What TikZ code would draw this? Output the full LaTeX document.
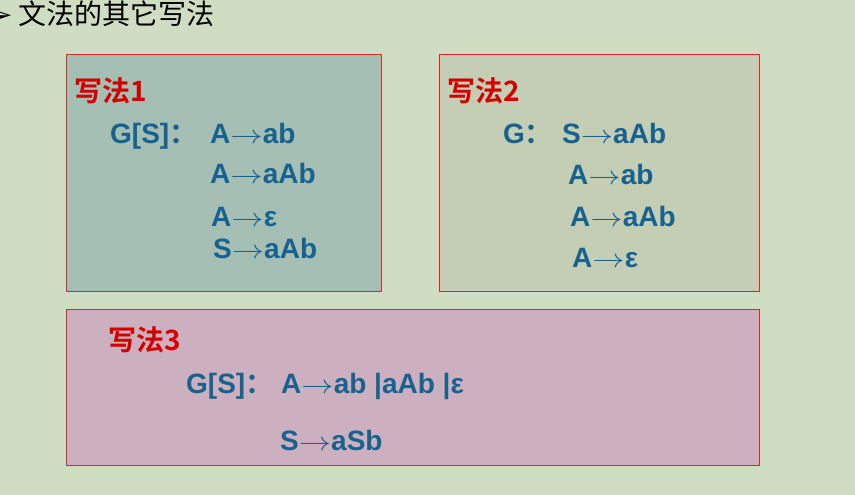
\documentclass[tikz,border=0pt]{standalone}
\usepackage{fontspec}
\usepackage{graphicx}
\newfontfamily\rulefont{Liberation Sans}[BoldFont={Liberation Sans Bold}]
\newfontfamily\cjk{Noto Sans CJK SC}[BoldFont={Noto Sans CJK SC Bold}]
\newfontfamily\dingbat{DejaVu Sans}
\usetikzlibrary{positioning}
\definecolor{pagegreen}{HTML}{CFDEC3}
\definecolor{fillone}{HTML}{A6BFB4}
\definecolor{filltwo}{HTML}{C4CEB4}
\definecolor{fillthree}{HTML}{CDB0C0}
\definecolor{boxred}{HTML}{D9262B}
\definecolor{headred}{HTML}{D40000}
\definecolor{ruleblue}{HTML}{17628F}
\tikzset{panel/.style={draw=boxred,line width=1pt,inner sep=0pt}}
\tikzset{head/.style={anchor=base west,inner sep=0pt,text=headred,font=\cjk\bfseries\fontsize{28}{30}\selectfont}}
\tikzset{rule/.style={anchor=base west,inner sep=0pt,text=ruleblue,font=\rulefont\bfseries\fontsize{28}{32}\selectfont}}
\tikzset{title/.style={anchor=base west,inner sep=0pt,font=\cjk\fontsize{28}{30}\selectfont}}
\newcommand{\wide}[1]{{\cjk\bfseries #1}}
\newcommand{\yields}{\scalebox{1.3}[1.05]{\ensuremath{\rightarrow}}}

\begin{document}
\begin{tikzpicture}[x=1pt,y=-1pt]
    \fill[pagegreen] (0,0) rectangle (855,495);
    \useasboundingbox (0,0) rectangle (855,495);

    \node[title] (bullet) at (-11,25) {\dingbat\fontsize{28}{30}\selectfont ➢};
    \node[title] (title) at (18,25) {文法的其它写法};

    \node[panel,fill=fillone,minimum width=315pt,minimum height=236pt] (p1) at (223.5,173) {};
    \node[panel,fill=filltwo,minimum width=320pt,minimum height=236pt] (p2) at (599,173) {};
    \node[panel,fill=fillthree,minimum width=693pt,minimum height=156pt] (p3) at (412.5,387) {};

    % first way
    \node[head] (h1) at (74,102) {写法1};
    \node[rule] (g1) at (110,143) {G[S]\wide{：}};
    \node[rule] (r11) at (210,143) {A\yields ab};
    \node[rule] (r12) at (210,183) {A\yields aAb};
    \node[rule] (r13) at (211,226) {A\yields ε};
    \node[rule] (r14) at (213,258) {S\yields aAb};

    % second way
    \node[head] (h2) at (447,102) {写法2};
    \node[rule] (g2) at (503,143) {G\wide{：}};
    \node[rule] (r21) at (562,143) {S\yields aAb};
    \node[rule] (r22) at (568,184) {A\yields ab};
    \node[rule] (r23) at (570,226) {A\yields aAb};
    \node[rule] (r24) at (572,267) {A\yields ε};

    % third way
    \node[head] (h3) at (108,350) {写法3};
    \node[rule] (g3) at (186,393) {G[S]\wide{：}};
    \node[rule] (r31) at (281,393) {A\yields ab |aAb |ε};
    \node[rule] (r32) at (280,450) {S\yields aSb};
\end{tikzpicture}
\end{document}
